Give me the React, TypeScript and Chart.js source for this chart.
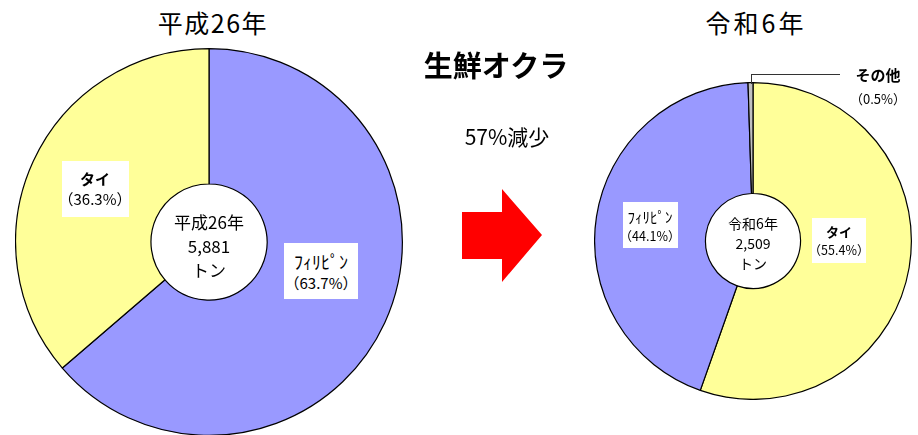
import React, { useEffect, useRef } from "react";
import { Chart, registerables } from "chart.js";

Chart.register(...registerables);

const leftLabels = ["ﾌｨﾘﾋﾟﾝ", "タイ"];
const leftValues = [63.7, 36.3];
const leftColors = ["#9999FF", "#FFFF99"];

const rightLabels = ["タイ", "ﾌｨﾘﾋﾟﾝ", "その他"];
const rightValues = [55.4, 44.1, 0.5];
const rightColors = ["#FFFF99", "#9999FF", "#C0C0C0"];

const leftTitle = "平成26年";
const rightTitle = "令和6年";
const mainTitle = "生鮮オクラ";
const changeText = "57%減少";
const leftTotal = "5,881";
const rightTotal = "2,509";

const FONT = '"Noto Sans CJK JP", "Noto Sans", sans-serif';

function PieCanvas(props: { labels: string[]; values: number[]; colors: string[]; left: number; top: number; size: number }) {
  const ref = useRef<HTMLCanvasElement | null>(null);
  useEffect(() => {
    if (!ref.current) return;
    const chart = new Chart(ref.current, {
      type: "doughnut",
      data: {
        labels: props.labels,
        datasets: [
          {
            data: props.values,
            backgroundColor: props.colors,
            borderColor: "#000000",
            borderWidth: 1.2,
            borderAlign: "center",
          },
        ],
      },
      options: {
        animation: false,
        responsive: false,
        maintainAspectRatio: false,
        cutout: "30%",
        rotation: 0,
        layout: { padding: 0 },
        plugins: { legend: { display: false }, tooltip: { enabled: false }, title: { display: false } },
      },
    });
    return () => chart.destroy();
  }, []);
  return (
    <canvas
      ref={ref}
      width={props.size}
      height={props.size}
      style={{ position: "absolute", left: props.left, top: props.top, width: props.size, height: props.size }}
    />
  );
}

function Box(props: { x: number; y: number; w: number; h: number; lines: string[]; sizes: number[]; bold?: boolean[] }) {
  return (
    <div
      style={{
        position: "absolute",
        left: props.x - props.w / 2,
        top: props.y - props.h / 2,
        width: props.w,
        height: props.h,
        background: "#fff",
        display: "flex",
        flexDirection: "column",
        alignItems: "center",
        justifyContent: "center",
        fontFamily: FONT,
        color: "#000",
      }}
    >
      {props.lines.map((l, i) => (
        <div
          key={i}
          style={{
            fontSize: props.sizes[i],
            lineHeight: Math.round(props.sizes[i] * 1.35) + "px",
            fontWeight: props.bold && props.bold[i] ? 700 : 400,
            whiteSpace: "nowrap",
          }}
        >
          {l}
        </div>
      ))}
    </div>
  );
}

function CenterText(props: { x: number; y: number; lines: string[]; size: number; lh: number }) {
  return (
    <div
      style={{
        position: "absolute",
        left: props.x - 60,
        top: props.y - (props.lines.length * props.lh) / 2,
        width: 120,
        textAlign: "center",
        fontFamily: FONT,
        fontSize: props.size,
        lineHeight: props.lh + "px",
        color: "#000",
      }}
    >
      {props.lines.map((l, i) => (
        <div key={i}>{l}</div>
      ))}
    </div>
  );
}

function Text(props: { x: number; y: number; text: string; size: number; bold?: boolean; ls?: number }) {
  return (
    <div
      style={{
        position: "absolute",
        left: props.x - 150,
        top: props.y - props.size * 0.7,
        width: 300,
        textAlign: "center",
        fontFamily: FONT,
        fontSize: props.size,
        lineHeight: props.size * 1.4 + "px",
        fontWeight: props.bold ? 700 : 400,
        letterSpacing: props.ls || 0,
        color: "#000",
        whiteSpace: "nowrap",
      }}
    >
      {props.text}
    </div>
  );
}

export default function App() {
  return (
    <div style={{ position: "fixed", left: 0, top: 0, width: 918, height: 435, overflow: "hidden", background: "#fff" }}>
      <PieCanvas labels={leftLabels} values={leftValues} colors={leftColors} left={15} top={48} size={388} />
      <PieCanvas labels={rightLabels} values={rightValues} colors={rightColors} left={594} top={82} size={318} />

      <Text x={213} y={22} text={leftTitle} size={25} ls={1.5} />
      <Text x={756} y={22} text={rightTitle} size={25} ls={3} />
      <Text x={496} y={64} text={mainTitle} size={29} bold />
      <Text x={507} y={137} text={changeText} size={21} />

      <CenterText x={209} y={246} lines={[leftTitle, leftTotal, "トン"]} size={17} lh={24} />
      <CenterText x={753} y={243} lines={[rightTitle, rightTotal, "トン"]} size={14} lh={20} />

      <Box x={95} y={189} w={67} h={56} lines={[leftLabels[1], "（36.3%）"]} sizes={[15, 15]} bold={[true, false]} />
      <Box x={321} y={271} w={74} h={56} lines={[leftLabels[0], "（63.7%）"]} sizes={[18, 15]} />
      <Box x={650} y={225} w={55} h={46} lines={[rightLabels[1], "（44.1%）"]} sizes={[15, 12.5]} />
      <Box x={839} y={240} w={54} h={45} lines={[rightLabels[0], "（55.4%）"]} sizes={[13, 12.5]} bold={[true, false]} />

      <div style={{ position: "absolute", left: 751, top: 74, width: 1, height: 10, background: "#333" }} />
      <div style={{ position: "absolute", left: 751, top: 74, width: 89, height: 1, background: "#333" }} />
      <div style={{ position: "absolute", left: 828, top: 65, width: 100, textAlign: "center", fontFamily: FONT, fontSize: 15, fontWeight: 700, lineHeight: "19px" }}>
        {rightLabels[2]}
      </div>
      <div style={{ position: "absolute", left: 828, top: 90, width: 100, textAlign: "center", fontFamily: FONT, fontSize: 13, lineHeight: "17px" }}>
        （0.5%）
      </div>

      <div
        style={{
          position: "absolute",
          left: 462,
          top: 189,
          width: 80,
          height: 93,
          background: "#FF0000",
          clipPath: "polygon(0px 23px, 40px 23px, 40px 0px, 80px 46px, 40px 93px, 40px 70px, 0px 70px)",
        }}
      />
    </div>
  );
}
